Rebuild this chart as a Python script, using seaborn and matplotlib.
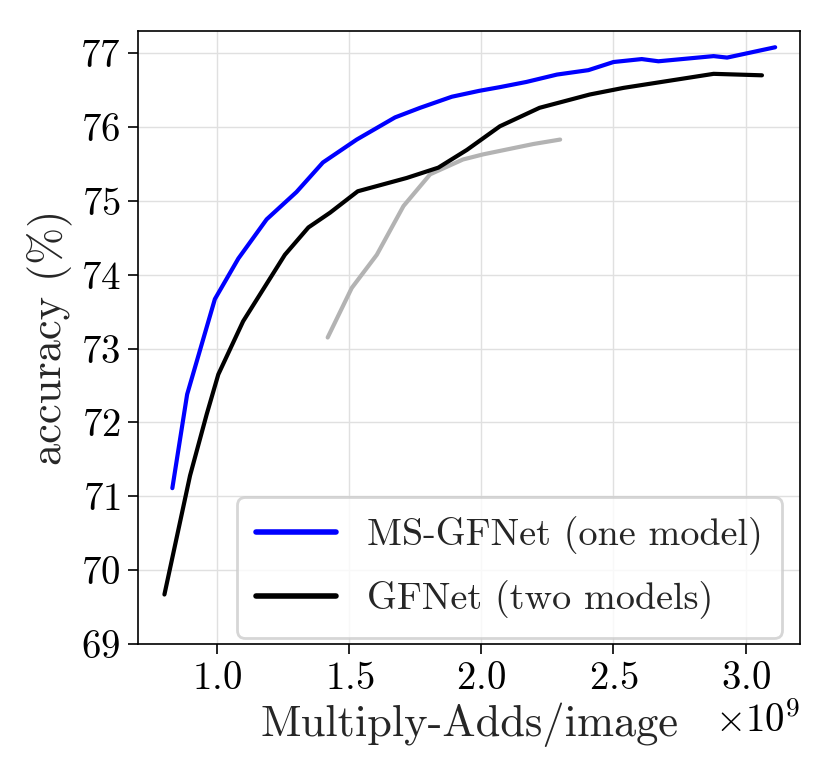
import matplotlib
matplotlib.use('Agg')
import matplotlib.pyplot as plt
import numpy as np
import pandas as pd
import seaborn as sns

# Multiply-Adds in units of 1e9, accuracy in %
ms_gfnet_macs = [0.83, 0.886, 0.991, 1.08, 1.187, 1.30, 1.40, 1.528, 1.673, 1.768, 1.888, 1.992,
                 2.07, 2.17, 2.286, 2.405, 2.50, 2.607, 2.67, 2.879, 2.93, 3.112]
ms_gfnet_acc = [71.11, 72.38, 73.67, 74.22, 74.75, 75.12, 75.52, 75.83, 76.13, 76.26, 76.41, 76.49,
                76.54, 76.61, 76.71, 76.77, 76.88, 76.92, 76.89, 76.96, 76.94, 77.08]

gfnet_macs = [0.80, 0.897, 0.96, 1.004, 1.098, 1.256, 1.345, 1.427, 1.532, 1.717, 1.837, 1.945,
              2.07, 2.22, 2.41, 2.538, 2.879, 3.062]
gfnet_acc = [69.67, 71.28, 72.11, 72.65, 73.37, 74.27, 74.64, 74.84, 75.13, 75.31, 75.45, 75.69,
             76.01, 76.26, 76.44, 76.53, 76.72, 76.70]

gray_macs = [1.418, 1.509, 1.604, 1.705, 1.806, 1.93, 2.007, 2.197, 2.298]
gray_acc = [73.15, 73.82, 74.27, 74.93, 75.36, 75.56, 75.63, 75.77, 75.83]

labels = ['MS-GFNet (one model)', 'GFNet (two models)']
colors = ['blue', 'black']

sns.set_style('whitegrid')
plt.rcParams['font.family'] = 'serif'
plt.rcParams['font.serif'] = ['cmr10', 'DejaVu Serif']
plt.rcParams['mathtext.fontset'] = 'cm'
plt.rcParams['axes.formatter.use_mathtext'] = True

df = pd.concat([
    pd.DataFrame({'macs': np.array(ms_gfnet_macs) * 1e9, 'acc': ms_gfnet_acc, 'model': labels[0]}),
    pd.DataFrame({'macs': np.array(gfnet_macs) * 1e9, 'acc': gfnet_acc, 'model': labels[1]}),
])
gray_df = pd.DataFrame({'macs': np.array(gray_macs) * 1e9, 'acc': gray_acc})

fig, ax = plt.subplots(figsize=(8.31, 7.79), dpi=100)
sns.lineplot(data=gray_df, x='macs', y='acc', color='#b3b3b3', linewidth=3, ax=ax,
             sort=False, estimator=None, legend=False)
sns.lineplot(data=df, x='macs', y='acc', hue='model', palette=dict(zip(labels, colors)),
             linewidth=3, ax=ax, sort=False, estimator=None)

ax.set_xlim(0.7e9, 3.206e9)
ax.set_ylim(69, 77.3)
ax.set_xticks(np.array([1.0, 1.5, 2.0, 2.5, 3.0]) * 1e9)
ax.set_yticks(range(69, 78))
ax.grid(True, color='#e0e0e0', linewidth=1)
for s in ax.spines.values():
    s.set_color('black')
    s.set_linewidth(1.2)
ax.tick_params(axis='both', labelsize=28, direction='out', length=7.5, width=1.2,
               colors='black', bottom=True, left=True, pad=5)
ax.xaxis.get_offset_text().set_fontsize(28)
ax.set_xlabel('Multiply-Adds/image', fontsize=32, labelpad=4)
ax.set_ylabel('accuracy (%)', fontsize=32, labelpad=6)

leg = ax.legend(loc='lower right', bbox_to_anchor=(1 - 18 / 662, 6 / 613), borderaxespad=0,
                fontsize=27.5, frameon=True, fancybox=True, handlelength=2.1,
                labelspacing=0.65, borderpad=0.5)
leg.get_frame().set_edgecolor('#cccccc')
leg.get_frame().set_linewidth(2)
for line in leg.get_lines():
    line.set_linewidth(4)

fig.subplots_adjust(left=138/831, right=800/831, top=1-31/779, bottom=1-644/779)
fig.savefig('out.png', dpi=100)
